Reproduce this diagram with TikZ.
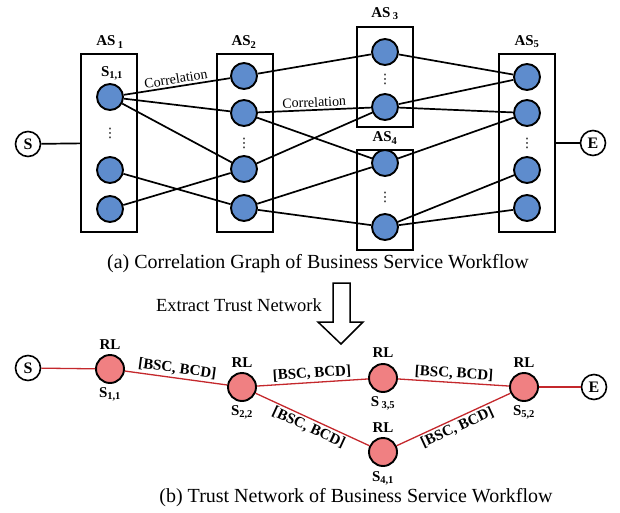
\documentclass[tikz,border=0pt]{standalone}
\usepackage{fontspec}
\setmainfont{Liberation Serif}
\newfontfamily\symfont{DejaVu Sans}
\definecolor{svcblue}{RGB}{94,140,205}
\definecolor{rlpink}{RGB}{240,128,130}
\definecolor{trustred}{RGB}{196,40,44}

\begin{document}
\begin{tikzpicture}[x=1pt,y=-1pt]
        \tikzstyle{svc}=[draw,shape=circle,line width=1.9pt,fill=svcblue,minimum size=26pt,inner sep=0pt]
        \tikzstyle{rlunit}=[draw,shape=circle,line width=1.9pt,fill=rlpink,minimum size=28pt,inner sep=0pt]
        \tikzstyle{term}=[draw,shape=circle,line width=1.6pt,minimum size=25pt,inner sep=0pt,font=\bfseries\fontsize{16}{16}\selectfont]
        \tikzstyle{asbox}=[draw,line width=1.3pt,minimum width=56pt,inner sep=0pt]
        \tikzstyle{lbl}=[font=\bfseries\fontsize{15}{15}\selectfont]
        \tikzstyle{vdot}=[font=\symfont\fontsize{13}{13}\selectfont,inner sep=0pt]
        \tikzstyle{corr}=[font=\fontsize{14}{14}\selectfont,inner sep=2pt]
        \tikzstyle{bsc}=[font=\bfseries\fontsize{15}{15}\selectfont,inner sep=2pt]
        \tikzstyle{caption}=[font=\fontsize{20}{20}\selectfont]
        \tikzstyle{link}=[line width=1.7pt]
        \tikzstyle{tlink}=[line width=1.3pt,draw=trustred]

        \useasboundingbox (0,0) rectangle (620,513);

        % (a) correlation graph
        \node[asbox,minimum height=178pt](as1) at (109,143){};
        \node[asbox,minimum height=178pt](as2) at (245,143){};
        \node[asbox,minimum height=100pt](as3) at (385,77){};
        \node[asbox,minimum height=100pt](as4) at (385,200){};
        \node[asbox,minimum height=178pt](as5) at (527,143){};

        \node[lbl](l1) at (110,42){AS\,\textsubscript{1}};
        \node[lbl](l2) at (244,42){AS\textsubscript{2}};
        \node[lbl](l3) at (385,14){AS\,\textsubscript{3}};
        \node[lbl](l4) at (385,138){AS\textsubscript{4}};
        \node[lbl](l5) at (527,42){AS\textsubscript{5}};
        \node[lbl](n11) at (112,73){S\textsubscript{1,1}};

        \node[term](s) at (28,144){S};
        \node[term](e) at (593,143){E};

        \node[svc](s11) at (110,97){};
        \node[vdot](d1) at (110,133){⋮};
        \node[svc](s12) at (110,170){};
        \node[svc](s13) at (110,209){};

        \node[svc](s21) at (244,76){};
        \node[svc](s22) at (244,113){};
        \node[vdot](d2) at (244,143){⋮};
        \node[svc](s23) at (244,169){};
        \node[svc](s24) at (244,208){};

        \node[svc](s31) at (385,52){};
        \node[vdot](d3) at (385,79){⋮};
        \node[svc](s32) at (385,107){};

        \node[svc](s41) at (385,163){};
        \node[vdot](d4) at (385,197){⋮};
        \node[svc](s42) at (385,227){};

        \node[svc](s51) at (527,77){};
        \node[svc](s52) at (527,113){};
        \node[vdot](d5) at (527,143){⋮};
        \node[svc](s53) at (527,170){};
        \node[svc](s54) at (527,208){};

        \draw[link] (s) -- (as1);
        \draw[link] (as5) -- (e);

        \draw[link] (s11) -- node[corr,midway,above,sloped]{Correlation} (s21);
        \draw[link] (s11) -- (s22);
        \draw[link] (s11) -- (s23);
        \draw[link] (s12) -- (s24);
        \draw[link] (s13) -- (s23);

        \draw[link] (s21) -- (s31);
        \draw[link] (s22) -- node[corr,midway,above,sloped]{Correlation} (s32);
        \draw[link] (s22) -- (s41);
        \draw[link] (s23) -- (s32);
        \draw[link] (s24) -- (s41);
        \draw[link] (s24) -- (s42);

        \draw[link] (s31) -- (s51);
        \draw[link] (s32) -- (s51);
        \draw[link] (s32) -- (s52);
        \draw[link] (s41) -- (s52);
        \draw[link] (s42) -- (s53);
        \draw[link] (s42) -- (s54);

        \node[caption](capa) at (318,264){(a) Correlation Graph of Business Service Workflow};

        % extraction arrow
        \node[font=\fontsize{18.5}{18.5}\selectfont](extract) at (239,305){Extract Trust Network};
        \draw[line width=1.5pt,fill=white] (333,283) -- (350,283) -- (350,322) -- (363,322)
            -- (341,344) -- (318,322) -- (333,322) -- cycle;

        % (b) trust network
        \node[term](bs) at (28,368){S};
        \node[term](be) at (594,387){E};

        \node[rlunit](t11) at (110,369){};
        \node[rlunit](t22) at (242,387){};
        \node[rlunit](t35) at (383,378){};
        \node[rlunit](t41) at (383,452){};
        \node[rlunit](t52) at (524,387){};

        \node[lbl](r11) at (110,345){RL};
        \node[lbl](r22) at (242,363){RL};
        \node[lbl](r35) at (383,353){RL};
        \node[lbl](r41) at (383,428){RL};
        \node[lbl](r52) at (524,363){RL};

        \node[lbl](n11b) at (110,394){S\textsubscript{1,1}};
        \node[lbl](n22) at (242,412){S\textsubscript{2,2}};
        \node[lbl](n35) at (383,403){S\,\textsubscript{3,5}};
        \node[lbl](n41) at (383,478){S\textsubscript{4,1}};
        \node[lbl](n52) at (524,412){S\textsubscript{5,2}};

        \draw[tlink] (bs) -- (t11);
        \draw[tlink] (t11) -- node[bsc,midway,above,sloped]{[BSC, BCD]} (t22);
        \draw[tlink] (t22) -- node[bsc,midway,above,sloped]{[BSC, BCD]} (t35);
        \draw[tlink] (t35) -- node[bsc,midway,above,sloped]{[BSC, BCD]} (t52);
        \draw[tlink] (t22) -- node[bsc,midway,below,sloped]{[BSC, BCD]} (t41);
        \draw[tlink] (t41) -- node[bsc,midway,below,sloped]{[BSC, BCD]} (t52);
        \draw[tlink] (t52) -- (be);

        \node[caption](capb) at (356,498){(b) Trust Network of Business Service Workflow};

    \end{tikzpicture}
\end{document}
